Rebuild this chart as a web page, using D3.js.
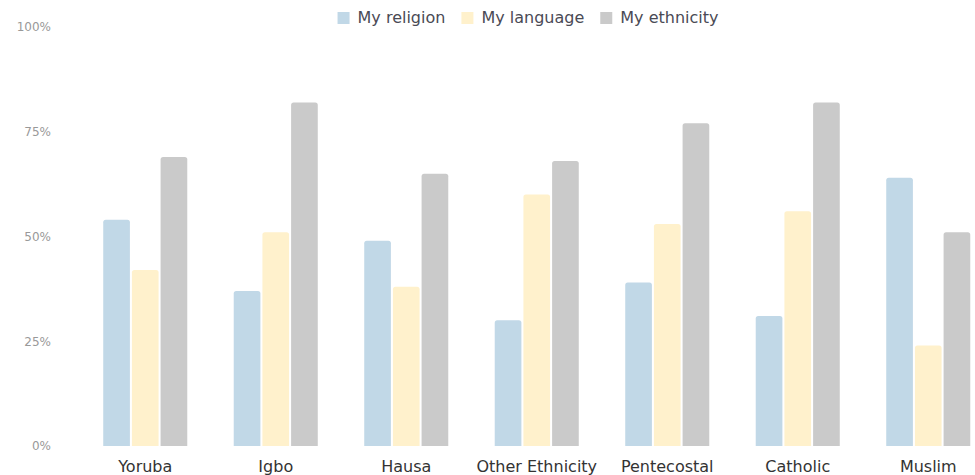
<!DOCTYPE html>
<html>
<head>
<meta charset="utf-8">
<script src="https://cdn.jsdelivr.net/npm/d3@7"></script>
<style>
  html, body { margin: 0; padding: 0; background: #fff; }
  svg { display: block; font-family: "DejaVu Sans", Verdana, sans-serif; }
</style>
</head>
<body>
<svg id="chart" width="975" height="475"></svg>
<script>
// Share of respondents naming each identity marker, by group (%)
const categories = ["Yoruba", "Igbo", "Hausa", "Other Ethnicity", "Pentecostal", "Catholic", "Muslim"];
const seriesNames = ["My religion", "My language", "My ethnicity"];
const religion  = [54, 37, 49, 30, 39, 31, 64];
const language  = [42, 51, 38, 60, 53, 56, 24];
const ethnicity = [69, 82, 65, 68, 77, 82, 51];
const tickValues = [0, 25, 50, 75, 100];
const colors = ["#c1d8e7", "#fff1cc", "#cacaca"];

const seriesValues = [religion, language, ethnicity];
const rows = categories.map((c, i) => ({
  category: c,
  values: seriesNames.map((s, k) => ({ series: s, k, value: seriesValues[k][i] }))
}));

const svg = d3.select("#chart");
const plotTop = 27, plotBottom = 446;

const x0 = d3.scaleBand()
  .domain(categories)
  .range([80, 993.5])
  .paddingInner(0.356)
  .paddingOuter(0.178);

const x1 = d3.scaleBand()
  .domain(seriesNames)
  .range([0, x0.bandwidth()])
  .paddingInner(0.07);

const y = d3.scaleLinear().domain([0, 100]).range([plotBottom, plotTop]);

// y axis: labels only
const yAxis = d3.axisLeft(y)
  .tickValues(tickValues)
  .tickFormat(d => d + "%")
  .tickSize(0)
  .tickPadding(0);
const gy = svg.append("g").attr("transform", "translate(51,0)").call(yAxis);
gy.select(".domain").remove();
gy.selectAll("text")
  .attr("fill", "#999")
  .style("font-size", "12px")
  .style("font-family", "'DejaVu Sans', Verdana, sans-serif");

// bars with rounded top corners
function topRounded(x, yTop, w, h, r) {
  r = Math.min(r, w / 2, h);
  return `M${x},${yTop + h}V${yTop + r}Q${x},${yTop} ${x + r},${yTop}` +
         `H${x + w - r}Q${x + w},${yTop} ${x + w},${yTop + r}V${yTop + h}Z`;
}

const groups = svg.append("g").selectAll("g")
  .data(rows)
  .join("g")
  .attr("transform", d => `translate(${x0(d.category)},0)`);

groups.selectAll("path")
  .data(d => d.values)
  .join("path")
  .attr("d", d => topRounded(x1(d.series), y(d.value), x1.bandwidth(), plotBottom - y(d.value), 2.5))
  .attr("fill", d => colors[d.k]);

// x axis: category labels only
const xAxis = d3.axisBottom(x0).tickSize(0).tickPadding(0);
const gx = svg.append("g").attr("transform", `translate(0,${plotBottom + 12})`).call(xAxis);
gx.select(".domain").remove();
gx.selectAll("text")
  .attr("fill", "#333")
  .attr("dy", "0.85em")
  .style("font-size", "16px")
  .style("font-family", "'DejaVu Sans', Verdana, sans-serif");

// legend, centred above the plot
const legend = svg.append("g");
const items = legend.selectAll("g")
  .data(seriesNames)
  .join("g");
items.append("rect")
  .attr("width", 12).attr("height", 12)
  .attr("y", -11)
  .attr("fill", (d, i) => colors[i]);
items.append("text")
  .attr("x", 20)
  .attr("fill", "#4a4a55")
  .style("font-size", "16px")
  .text(d => d);
let offset = 0;
items.each(function () {
  const w = this.getBBox().width;
  d3.select(this).attr("transform", `translate(${offset},0)`);
  offset += w + 16;
});
const total = offset - 16;
legend.attr("transform", `translate(${528 - total / 2},23)`);
</script>
</body>
</html>
